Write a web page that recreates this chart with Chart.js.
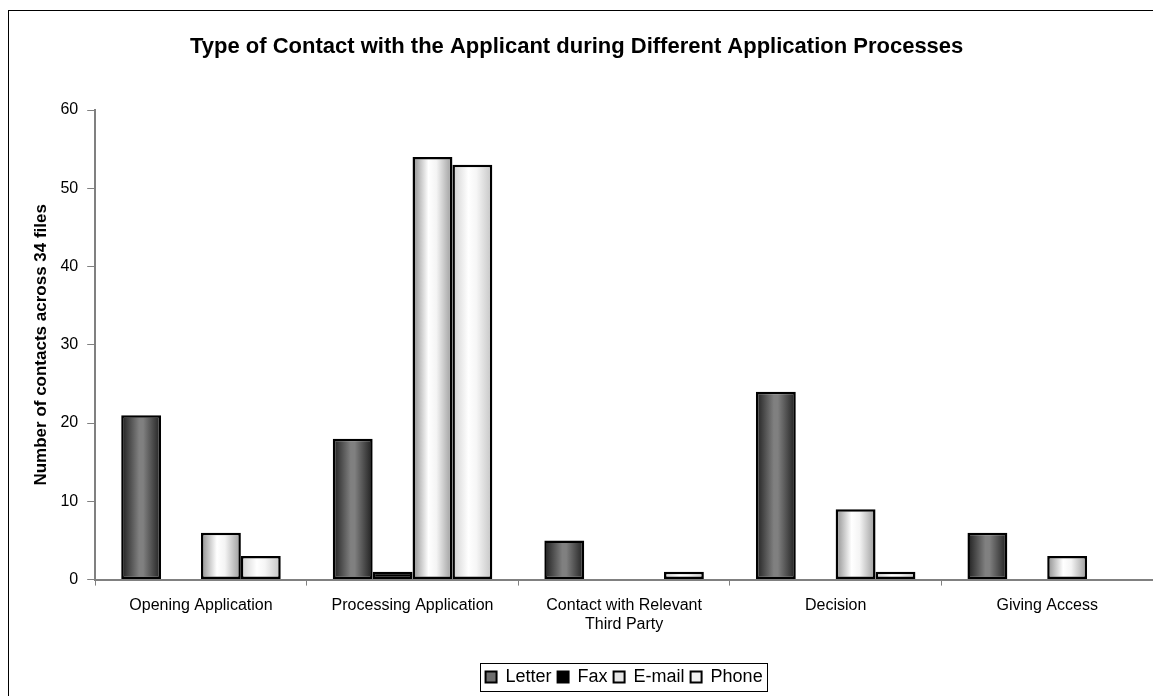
<!DOCTYPE html>
<html lang="en">
<head>
  <meta charset="UTF-8" />
  <title>Type of Contact with the Applicant</title>
  <script src="https://cdn.jsdelivr.net/npm/chart.js"></script>
  <style>
    body { margin: 0; padding: 0; background: #fff; }
    #wrap { width: 1153px; height: 696px; overflow: hidden; }
  </style>
</head>
<body>
  <div id="wrap"><canvas id="chart" width="1153" height="696"></canvas></div>

  <script>
    // categories and series
    const categories = [
      'Opening Application',
      'Processing Application',
      ['Contact with Relevant', 'Third Party'],
      'Decision',
      'Giving Access'
    ];
    const letter = [21, 18, 5, 24, 6];
    const fax = [0, 1, 0, 0, 0];
    const email = [6, 54, 0, 9, 3];
    const phone = [3, 53, 1, 1, 0];
    const yTicks = [0, 10, 20, 30, 40, 50, 60];

    const titleText = 'Type of Contact with the Applicant during Different Application Processes';
    const font = 'Arial, "Liberation Sans", sans-serif';

    // horizontal shading stops for each series
    const shades = [
      [[0, '#1e1e1e'], [0.45, '#808080'], [0.55, '#808080'], [1, '#1e1e1e']],
      [[0, '#000'], [1, '#000']],
      [[0, '#8c8c8c'], [0.4, '#ffffff'], [0.6, '#f4f4f4'], [1, '#9a9a9a']],
      [[0, '#cfcfcf'], [0.4, '#ffffff'], [0.6, '#f6f6f6'], [1, '#c4c4c4']]
    ];
    const legendFill = ['#6e6e6e', '#000000', '#e6e6e6', '#f0f0f0'];

    const shadePlugin = {
      id: 'shade',
      beforeDatasetsDraw(chart) {
        const ctx = chart.ctx;
        chart.data.datasets.forEach((ds, i) => {
          chart.getDatasetMeta(i).data.forEach(bar => {
            const l = bar.x - bar.width / 2, r = bar.x + bar.width / 2;
            const g = ctx.createLinearGradient(l, 0, r, 0);
            shades[i].forEach(s => g.addColorStop(s[0], s[1]));
            bar.options = Object.assign({}, bar.options, { backgroundColor: g });
          });
        });
      },
      afterDraw(chart) {
        const ctx = chart.ctx;
        ctx.save();
        // outer frame
        ctx.strokeStyle = '#000';
        ctx.lineWidth = 1;
        ctx.strokeRect(8.5, 10.5, 1300, 900);
        // title
        ctx.fillStyle = '#000';
        ctx.font = 'bold 22px ' + font;
        ctx.textAlign = 'left';
        ctx.textBaseline = 'middle';
        ctx.fillText(titleText, 190, 47);
        // legend frame around the items
        const boxes = chart.legend.legendHitBoxes;
        if (boxes && boxes.length) {
          const l = Math.min(...boxes.map(b => b.left)) - 6;
          const r = Math.max(...boxes.map(b => b.left + b.width)) + 4;
          const t = boxes[0].top - 5;
          const b = boxes[0].top + boxes[0].height + 5;
          ctx.strokeRect(Math.round(l) + 0.5, Math.round(t) + 0.5, Math.round(r - l), Math.round(b - t));
        }
        ctx.restore();
      }
    };

    const names = ['Letter', 'Fax', 'E-mail', 'Phone'];
    const series = [letter, fax, email, phone];

    new Chart(document.getElementById('chart'), {
      type: 'bar',
      data: {
        labels: categories,
        datasets: series.map((d, i) => ({
          label: names[i],
          data: d,
          backgroundColor: () => legendFill[i],
          borderColor: '#000',
          borderWidth: 2.5,
          borderSkipped: false,
          barPercentage: 1,
          categoryPercentage: 0.754
        }))
      },
      options: {
        responsive: false,
        animation: false,
        layout: { padding: { top: 110, left: 31, right: 0, bottom: 0 } },
        plugins: {
          title: { display: false },
          tooltip: { enabled: false },
          legend: {
            position: 'bottom',
            fullSize: false,
            labels: {
              color: '#000',
              font: { family: font, size: 18 },
              boxWidth: 11,
              boxHeight: 11,
              padding: 6,
              generateLabels: chart => names.map((n, i) => ({
                text: n,
                fillStyle: legendFill[i],
                strokeStyle: '#000',
                lineWidth: 2,
                datasetIndex: i
              }))
            }
          }
        },
        scales: {
          x: {
            afterFit: s => { s.height += 18; },
            grid: { display: true, drawOnChartArea: false, color: '#808080', tickLength: 6, offset: true },
            border: { color: '#808080', width: 2 },
            ticks: { color: '#000', font: { family: font, size: 16 }, maxRotation: 0, padding: 10 }
          },
          y: {
            min: 0,
            max: 60,
            afterBuildTicks: axis => { axis.ticks = yTicks.map(v => ({ value: v })); },
            grid: { display: true, drawOnChartArea: false, color: '#808080', tickLength: 8 },
            border: { color: '#808080', width: 2 },
            ticks: { color: '#000', font: { family: font, size: 16 }, padding: 9 },
            title: {
              display: true,
              text: 'Number of contacts across 34 files',
              color: '#000',
              font: { family: font, size: 17, weight: 'bold' },
              padding: { top: 0, bottom: 0 }
            }
          }
        }
      },
      plugins: [shadePlugin]
    });
  </script>
</body>
</html>
